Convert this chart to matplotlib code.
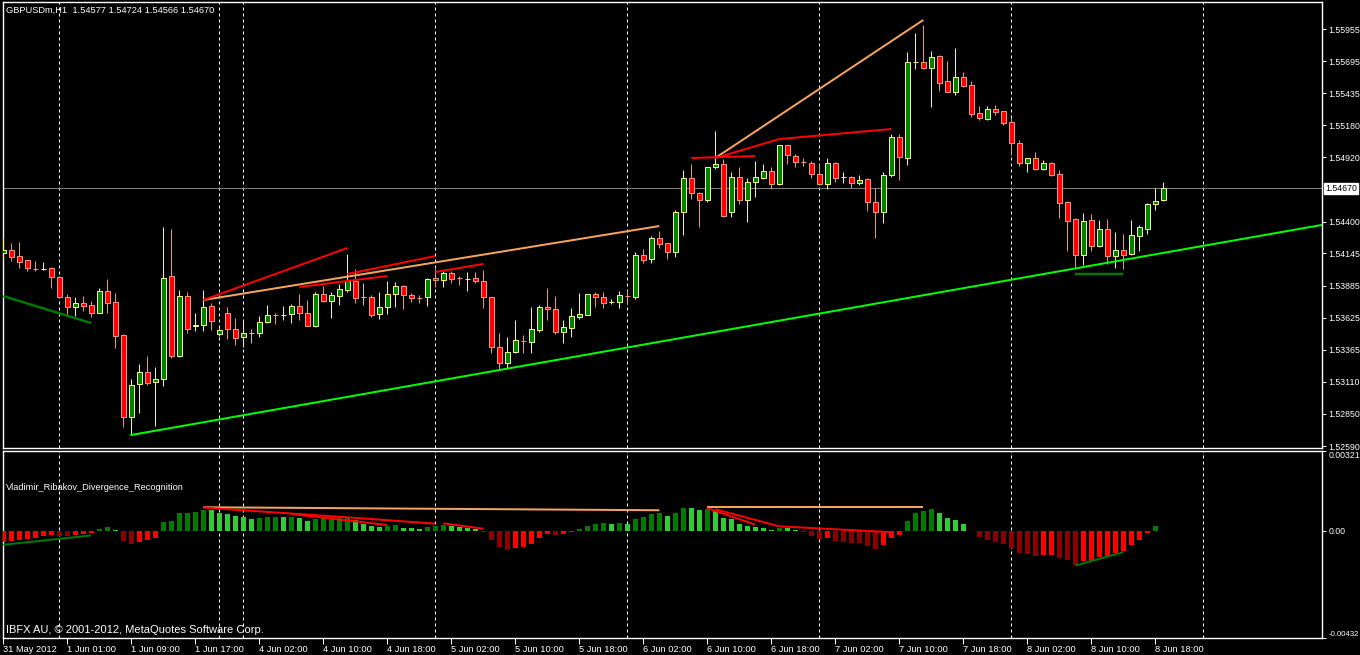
import matplotlib
matplotlib.use("Agg")
import matplotlib.pyplot as plt
from matplotlib.patches import Rectangle
import matplotlib.transforms as mtrans

plt.rcParams['font.family'] = ['Liberation Sans', 'DejaVu Sans']

# ---------------- data ----------------
symbol_title = "GBPUSDm,H1  1.54577 1.54724 1.54566 1.54670"
indicator_name = "Vladimir_Ribakov_Divergence_Recognition"
copyright_text = "IBFX AU, \u00a9 2001-2012, MetaQuotes Software Corp."

opens = [1.54147, 1.54172, 1.54123, 1.54091, 1.54018, 1.54018, 1.54026, 1.53954, 1.53792, 1.53712,
         1.53744, 1.53728, 1.53663, 1.53841, 1.53752, 1.53486, 1.52824, 1.53090, 1.53187, 1.53106,
         1.53130, 1.53962, 1.53316, 1.53800, 1.53558, 1.53566, 1.53720, 1.53494, 1.53663, 1.53534,
         1.53469, 1.53502, 1.53502, 1.53590, 1.53647, 1.53647, 1.53655, 1.53720, 1.53663, 1.53558,
         1.53816, 1.53760, 1.53800, 1.53849, 1.53921, 1.53792, 1.53792, 1.53655, 1.53712, 1.53816,
         1.53881, 1.53808, 1.53784, 1.53792, 1.53946, 1.53929, 1.53986, 1.53946, 1.53938, 1.53946,
         1.53921, 1.53792, 1.53389, 1.53260, 1.53348, 1.53437, 1.53429, 1.53526, 1.53712, 1.53695,
         1.53510, 1.53542, 1.53631, 1.53647, 1.53816, 1.53792, 1.53752, 1.53752, 1.53800, 1.53792,
         1.54131, 1.54099, 1.54268, 1.54228, 1.54155, 1.54478, 1.54753, 1.54632, 1.54575, 1.54841,
         1.54866, 1.54478, 1.54761, 1.54575, 1.54720, 1.54753, 1.54809, 1.54704, 1.55019, 1.54930,
         1.54882, 1.54874, 1.54785, 1.54704, 1.54874, 1.54761, 1.54761, 1.54712, 1.54745, 1.54559,
         1.54478, 1.54777, 1.55083, 1.54914, 1.55689, 1.55689, 1.55640, 1.55737, 1.55535, 1.55447,
         1.55568, 1.55503, 1.55277, 1.55229, 1.55309, 1.55293, 1.55205, 1.55035, 1.54874, 1.54914,
         1.54825, 1.54874, 1.54785, 1.54559, 1.54422, 1.54131, 1.54414, 1.54204, 1.54341, 1.54123,
         1.54172, 1.54139, 1.54285, 1.54341, 1.54543, 1.54577]
highs = [1.54277, 1.54228, 1.54236, 1.54091, 1.54083, 1.54075, 1.54034, 1.53958, 1.53816, 1.53792,
         1.53800, 1.53760, 1.53865, 1.53938, 1.53825, 1.53490, 1.53130, 1.53252, 1.53316, 1.53227,
         1.54357, 1.54341, 1.53849, 1.53833, 1.53663, 1.53849, 1.53744, 1.53542, 1.53712, 1.53623,
         1.53607, 1.53534, 1.53639, 1.53728, 1.53663, 1.53720, 1.53736, 1.53816, 1.53768, 1.53833,
         1.53881, 1.53833, 1.53897, 1.54139, 1.54018, 1.53905, 1.53808, 1.53833, 1.53921, 1.53913,
         1.53889, 1.53825, 1.53808, 1.53946, 1.54026, 1.54002, 1.54002, 1.53962, 1.53994, 1.53994,
         1.54010, 1.53796, 1.53502, 1.53469, 1.53607, 1.53486, 1.53712, 1.53728, 1.53865, 1.53800,
         1.53607, 1.53703, 1.53825, 1.53820, 1.53833, 1.53833, 1.53776, 1.53841, 1.53849, 1.54155,
         1.54180, 1.54285, 1.54325, 1.54232, 1.54494, 1.54817, 1.54866, 1.54640, 1.54845, 1.55132,
         1.54906, 1.54801, 1.54841, 1.54753, 1.54890, 1.54866, 1.54841, 1.55023, 1.55023, 1.54946,
         1.54914, 1.54890, 1.54866, 1.54914, 1.54878, 1.54801, 1.54765, 1.54777, 1.54749, 1.54672,
         1.54801, 1.55108, 1.55108, 1.55769, 1.55923, 1.55987, 1.55777, 1.55745, 1.55697, 1.55802,
         1.55608, 1.55535, 1.55334, 1.55334, 1.55342, 1.55297, 1.55237, 1.55059, 1.54918, 1.54962,
         1.54898, 1.54882, 1.54817, 1.54567, 1.54430, 1.54470, 1.54462, 1.54414, 1.54422, 1.54317,
         1.54301, 1.54414, 1.54373, 1.54551, 1.54672, 1.54724]
lows = [1.54099, 1.54083, 1.54026, 1.54002, 1.54002, 1.54010, 1.53865, 1.53790, 1.53647, 1.53639,
        1.53679, 1.53631, 1.53660, 1.53663, 1.53381, 1.52743, 1.52679, 1.52856, 1.53082, 1.52751,
        1.53074, 1.53300, 1.53308, 1.53502, 1.53518, 1.53518, 1.53526, 1.53477, 1.53453, 1.53405,
        1.53389, 1.53421, 1.53469, 1.53582, 1.53574, 1.53607, 1.53582, 1.53607, 1.53556, 1.53550,
        1.53752, 1.53623, 1.53728, 1.53833, 1.53744, 1.53728, 1.53631, 1.53615, 1.53655, 1.53712,
        1.53695, 1.53752, 1.53744, 1.53720, 1.53873, 1.53873, 1.53905, 1.53889, 1.53841, 1.53905,
        1.53703, 1.53340, 1.53203, 1.53219, 1.53340, 1.53340, 1.53340, 1.53510, 1.53607, 1.53494,
        1.53421, 1.53469, 1.53615, 1.53645, 1.53712, 1.53703, 1.53736, 1.53703, 1.53736, 1.53776,
        1.54067, 1.54067, 1.54188, 1.54099, 1.54115, 1.54293, 1.54583, 1.54357, 1.54559, 1.54825,
        1.54438, 1.54438, 1.54543, 1.54397, 1.54599, 1.54745, 1.54664, 1.54696, 1.54866, 1.54841,
        1.54849, 1.54753, 1.54696, 1.54664, 1.54720, 1.54712, 1.54672, 1.54696, 1.54486, 1.54268,
        1.54389, 1.54761, 1.54736, 1.54857, 1.55632, 1.55632, 1.55326, 1.55455, 1.55443, 1.55422,
        1.55487, 1.55245, 1.55221, 1.55221, 1.55261, 1.55180, 1.54938, 1.54849, 1.54801, 1.54821,
        1.54817, 1.54769, 1.54430, 1.54163, 1.54026, 1.54050, 1.54163, 1.54196, 1.54059, 1.54026,
        1.54018, 1.54131, 1.54163, 1.54301, 1.54494, 1.54566]
closes = [1.54172, 1.54115, 1.54075, 1.54026, 1.54016, 1.54020, 1.53954, 1.53792, 1.53712, 1.53744,
          1.53720, 1.53663, 1.53841, 1.53744, 1.53477, 1.52824, 1.53082, 1.53187, 1.53098, 1.53130,
          1.53946, 1.53316, 1.53800, 1.53534, 1.53566, 1.53712, 1.53599, 1.53526, 1.53534, 1.53461,
          1.53502, 1.53502, 1.53590, 1.53647, 1.53645, 1.53649, 1.53720, 1.53663, 1.53558, 1.53816,
          1.53760, 1.53808, 1.53857, 1.53921, 1.53784, 1.53792, 1.53647, 1.53712, 1.53816, 1.53881,
          1.53808, 1.53784, 1.53782, 1.53938, 1.53929, 1.53986, 1.53938, 1.53944, 1.53940, 1.53921,
          1.53792, 1.53389, 1.53260, 1.53348, 1.53445, 1.53435, 1.53534, 1.53712, 1.53695, 1.53510,
          1.53550, 1.53639, 1.53655, 1.53816, 1.53792, 1.53744, 1.53754, 1.53808, 1.53798, 1.54131,
          1.54091, 1.54268, 1.54220, 1.54155, 1.54478, 1.54753, 1.54632, 1.54575, 1.54841, 1.54866,
          1.54446, 1.54761, 1.54575, 1.54720, 1.54761, 1.54809, 1.54704, 1.55019, 1.54938, 1.54882,
          1.54880, 1.54785, 1.54704, 1.54874, 1.54753, 1.54763, 1.54712, 1.54736, 1.54559, 1.54478,
          1.54777, 1.55083, 1.54922, 1.55689, 1.55691, 1.55640, 1.55729, 1.55519, 1.55447, 1.55568,
          1.55495, 1.55269, 1.55237, 1.55309, 1.55285, 1.55196, 1.55035, 1.54874, 1.54914, 1.54825,
          1.54874, 1.54777, 1.54551, 1.54406, 1.54131, 1.54406, 1.54204, 1.54341, 1.54123, 1.54172,
          1.54131, 1.54293, 1.54357, 1.54543, 1.54567, 1.54670]

hist = [-0.000473, -0.000432, -0.000378, -0.000324, -0.000284, -0.000230, -0.000176, -0.000203, -0.000230, -0.000162,
        -0.000135, -0.000108, 0.000081, 0.000162, 0.000041, -0.000432, -0.000527, -0.000446, -0.000392, -0.000284,
        0.000365, 0.000405, 0.000729, 0.000732, 0.000770, 0.000851, 0.000848, 0.000729, 0.000689, 0.000581,
        0.000540, 0.000486, 0.000527, 0.000567, 0.000570, 0.000565, 0.000572, 0.000527, 0.000405, 0.000486,
        0.000527, 0.000529, 0.000540, 0.000567, 0.000446, 0.000284, 0.000203, 0.000162, 0.000203, 0.000216,
        0.000122, 0.000108, 0.000081, 0.000162, 0.000203, 0.000243, 0.000203, 0.000162, 0.000122, 0.000081,
        -0.000041, -0.000365, -0.000648, -0.000770, -0.000689, -0.000648, -0.000527, -0.000284, -0.000122, -0.000162,
        -0.000122, -0.000041, 0.000081, 0.000203, 0.000284, 0.000297, 0.000284, 0.000324, 0.000284, 0.000486,
        0.000567, 0.000689, 0.000702, 0.000608, 0.000729, 0.000932, 0.000918, 0.000851, 0.000891, 0.000810,
        0.000527, 0.000486, 0.000284, 0.000203, 0.000162, 0.000122, 0.000027, 0.000122, 0.000108, 0.000041,
        -0.000054, -0.000203, -0.000324, -0.000311, -0.000405, -0.000446, -0.000486, -0.000500, -0.000608, -0.000729,
        -0.000567, -0.000284, -0.000162, 0.000405, 0.000729, 0.000810, 0.000891, 0.000729, 0.000527, 0.000446,
        0.000284, -0.000027, -0.000243, -0.000365, -0.000446, -0.000527, -0.000689, -0.000878, -0.000932, -0.001013,
        -0.000972, -0.000970, -0.001094, -0.001175, -0.001377, -0.001215, -0.001200, -0.001053, -0.001013, -0.000891,
        -0.000810, -0.000567, -0.000365, -0.000081, 0.000203, 0.0]

time_labels = ["31 May 2012", "1 Jun 01:00", "1 Jun 09:00", "1 Jun 17:00", "4 Jun 02:00", "4 Jun 10:00",
               "4 Jun 18:00", "5 Jun 02:00", "5 Jun 10:00", "5 Jun 18:00", "6 Jun 02:00", "6 Jun 10:00",
               "6 Jun 18:00", "7 Jun 02:00", "7 Jun 10:00", "7 Jun 18:00", "8 Jun 02:00", "8 Jun 10:00",
               "8 Jun 18:00"]
bars_per_label = 8
day_separator_bars = [7, 27, 30, 54, 78, 102, 126, 150]

price_ticks = [1.55955, 1.55695, 1.55435, 1.55180, 1.54920, 1.54400, 1.54145,
               1.53885, 1.53625, 1.53365, 1.53110, 1.52850, 1.52590]
price_range = (1.52574, 1.56173)
last_price = 1.54670
ind_max, ind_min = 0.00321, -0.00432

# chart objects (bar index, value)
support_line = [(16, 1.52679), (134, 1.54023)]
main_red = [[(25, 1.53768), (43, 1.54188)], [(37, 1.53873), (48, 1.53962)],
            [(43, 1.53978), (54, 1.54123)], [(54, 1.53994), (60, 1.54059)],
            [(86, 1.54914), (94, 1.54930)], [(89, 1.54914), (97, 1.55067)],
            [(97, 1.55067), (111, 1.55148)]]
main_orange = [[(25, 1.53768), (82, 1.54365)], [(89, 1.54914), (115, 1.56028)]]
main_dkgreen = [[(0, 1.53800), (11, 1.53582)], [(134, 1.53978), (140, 1.53978)]]

ind_red = [[(25, 0.00093), (43, 0.00054)], [(43, 0.00054), (54, 0.000284)],
           [(36, 0.000675), (48, 0.00023)], [(55, 0.000297), (60, 0.000081)],
           [(88, 0.000905), (94, 0.000243)], [(89, 0.000864), (97, 0.000176)],
           [(97, 0.000176), (111, -0.00006)]]
ind_orange = [[(25, 0.000945), (82, 0.000824)], [(88, 0.000945), (115, 0.000945)]]
ind_dkgreen = [[(0, -0.000567), (11, -0.000189)], [(134, -0.001404), (140, -0.000864)]]

# ---------------- styling ----------------
W, H = 1360, 655
BG = 'black'
FG = 'white'
BULL_BODY, BULL_LINE = '#008000', '#F5F57A'
BEAR_BODY, BEAR_LINE = '#FF0000', '#E9967A'
DOJI_LINE = '#C0C0C0'
RED, ORANGE, LIME, DKGREEN = '#FF0000', '#F4A460', '#00FF00', '#007800'
H_UP, H_UPFADE, H_DN, H_DNFADE = '#007A00', '#32CD32', '#FF0000', '#8B0000'
FS = 6.7
FS_AX = 6.3
FS_COPY = 8.0
PX = 72.0 / 100.0   # one pixel in points

fig = plt.figure(figsize=(W / 100, H / 100), dpi=100, facecolor=BG)


def rect(x0, y0, x1, y1):
    return [x0 / W, 1 - y1 / H, (x1 - x0) / W, (y1 - y0) / H]


ax = fig.add_axes(rect(3, 2, 1322, 448))
axi = fig.add_axes(rect(3, 451, 1322, 638))

n = len(closes)
x0_bar = (3 - 3.3) / 8.0
x1_bar = (1322 - 3.3) / 8.0

for a in (ax, axi):
    a.set_facecolor(BG)
    a.set_xlim(x0_bar, x1_bar)
    for s in a.spines.values():
        s.set_color(FG)
        s.set_linewidth(1.0)
    for b in day_separator_bars:
        a.axvline(b, color=FG, lw=PX, dashes=(3, 3), zorder=1)

ax.set_ylim(*price_range)
axi.set_ylim(ind_min, ind_max)

# candles
bw = 0.6
for i in range(n):
    o, h, l, c = opens[i], highs[i], lows[i], closes[i]
    if c > o:
        body, line = BULL_BODY, BULL_LINE
    elif c < o:
        body, line = BEAR_BODY, BEAR_LINE
    else:
        body, line = DOJI_LINE, DOJI_LINE
    ax.plot([i, i], [l, h], color=line, lw=PX, zorder=3, solid_capstyle='butt')
    lo = min(o, c)
    ht = max(abs(c - o), 0.00001)
    ax.add_patch(Rectangle((i - bw / 2, lo), bw, ht, facecolor=body, edgecolor=line,
                           lw=PX, zorder=4))


def draw_segs(a, segs, color, lw):
    for (b1, v1), (b2, v2) in segs:
        a.plot([b1, b2], [v1, v2], color=color, lw=lw, zorder=6, solid_capstyle='butt')


# support trend line extended to the right edge
(sb1, sp1), (sb2, sp2) = support_line
slope = (sp2 - sp1) / (sb2 - sb1)
ax.plot([sb1, x1_bar], [sp1, sp1 + slope * (x1_bar - sb1)], color=LIME, lw=2 * PX, zorder=6)
draw_segs(ax, main_orange, ORANGE, 2 * PX)
draw_segs(ax, main_red, RED, 2 * PX)
draw_segs(ax, main_dkgreen, DKGREEN, 2.5 * PX)

ax.axhline(last_price, color='#808080', lw=PX, zorder=2)

# indicator histogram
colors = []
for i, v in enumerate(hist):
    prev = hist[i - 1] if i > 0 else v
    if v >= 0:
        colors.append(H_UP if (v > prev) else H_UPFADE)
    else:
        colors.append(H_DNFADE if (v < prev) else H_DN)
axi.bar(range(n), hist, width=0.7, color=colors, zorder=3)
draw_segs(axi, ind_orange, ORANGE, 2 * PX)
draw_segs(axi, ind_red, RED, 2 * PX)
draw_segs(axi, ind_dkgreen, DKGREEN, 2 * PX)

# axes ticks
ax.yaxis.tick_right()
ax.set_yticks(price_ticks)
ax.set_yticklabels([f"{p:.5f}" for p in price_ticks])
ax.tick_params(axis='y', colors=FG, labelcolor=FG, labelsize=FS_AX, length=3, width=PX, pad=1.5,
               direction='out')
ax.set_xticks([])

ytr = mtrans.blended_transform_factory(ax.transAxes, ax.transData)
ax.text(1.0 + 3 / 1319, last_price, "1.54670", transform=ytr, fontsize=FS_AX, color='black', va='center',
        ha='left', bbox=dict(boxstyle='square,pad=0.12', facecolor='white', edgecolor='white'), zorder=10,
        clip_on=False)

axi.yaxis.tick_right()
axi.set_yticks([ind_max, 0.0, ind_min])
axi.set_yticklabels(["0.00321", "0.00", "-0.00432"])
axi.tick_params(axis='y', colors=FG, labelcolor=FG, labelsize=FS_AX, length=3, width=PX, pad=1.5,
                direction='out')
ylabels = axi.get_yticklabels()
ylabels[0].set_va('top')
ylabels[2].set_va('bottom')
ylabels[2].set_fontsize(5.6)

axi.set_xticks([k * bars_per_label for k in range(len(time_labels))])
axi.set_xticklabels(time_labels)
axi.tick_params(axis='x', colors=FG, labelcolor=FG, labelsize=FS, length=4, width=PX, pad=1.0,
                direction='out')
for lbl in axi.get_xticklabels():
    lbl.set_ha('left')

fig.text(6 / W, 1 - 10 / H, symbol_title, color=FG, fontsize=FS, va='center', ha='left')
fig.text(6 / W, 1 - 488 / H, indicator_name, color=FG, fontsize=FS, va='center', ha='left')
fig.text(6 / W, 1 - 630 / H, copyright_text, color=FG, fontsize=FS_COPY, va='center', ha='left')

fig.savefig("out.png", dpi=100, facecolor=BG)
